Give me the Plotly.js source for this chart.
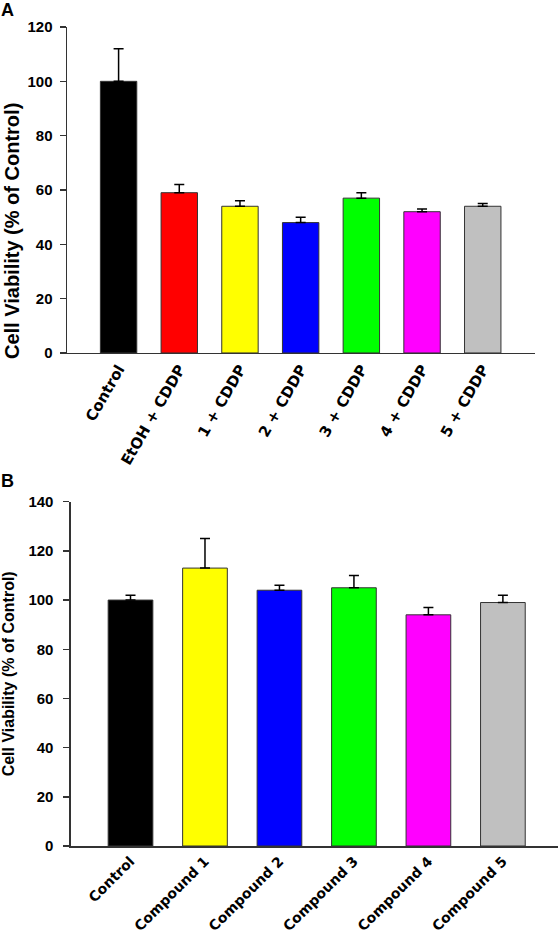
<!DOCTYPE html>
<html><head><meta charset="utf-8">
<script src="https://cdn.plot.ly/plotly-3.0.1.min.js"></script>
<style>html,body{margin:0;padding:0;background:#fff}#chart{width:559px;height:936px}</style>
</head><body><div id="chart"></div>
<script>
const catsA = ["Control", "EtOH + CDDP", "1 + CDDP", "2 + CDDP", "3 + CDDP", "4 + CDDP", "5 + CDDP"];
const valsA = [100, 59, 54, 48, 57, 52, 54];
const errA = [12, 3, 2, 2, 2, 1, 1];
const colorsA = ["#000000", "#ff0000", "#ffff00", "#0000ff", "#00ff00", "#ff00ff", "#c0c0c0"];

const catsB = ["Control", "Compound 1", "Compound 2", "Compound 3", "Compound 4", "Compound 5"];
const valsB = [100, 113, 104, 105, 94, 99];
const errB = [2, 12, 2, 5, 3, 3];
const colorsB = ["#000000", "#ffff00", "#0000ff", "#00ff00", "#ff00ff", "#c0c0c0"];

const ticksA = [0, 20, 40, 60, 80, 100, 120];
const ticksB = [0, 20, 40, 60, 80, 100, 120, 140];
const yTitle = "Cell Viability (% of Control)";

const errStyle = (arr) => ({type: "data", array: arr, arrayminus: arr.map(() => 0), symmetric: false,
  color: "#000000", thickness: 1.5, width: 5});

const traces = [
  {type: "bar", x: catsA, y: valsA, xaxis: "x", yaxis: "y", width: 0.6,
   marker: {color: colorsA, line: {color: "#333333", width: 1}}, error_y: errStyle(errA), hoverinfo: "x+y"},
  {type: "bar", x: catsB, y: valsB, xaxis: "x2", yaxis: "y2", width: 0.6,
   marker: {color: colorsB, line: {color: "#333333", width: 1}}, error_y: errStyle(errB), hoverinfo: "x+y"}
];

const arial = "Arial, 'Liberation Sans', sans-serif";
const tickFont = {family: arial, size: 15, color: "#000", weight: 700};
const catFontA = {family: "'DejaVu Sans', Verdana, sans-serif", size: 15, color: "#000", weight: 700};
const catFontB = {family: "'DejaVu Sans', Verdana, sans-serif", size: 14, color: "#000", weight: 700};

const boldTicks = (arr) => arr.map(v => "<b>" + v + "</b>");

const layout = {
  width: 559, height: 936,
  margin: {l: 67, r: 1, t: 27, b: 90},
  paper_bgcolor: "#fff", plot_bgcolor: "#fff",
  showlegend: false,
  bargap: 0.4,
  xaxis: {domain: [0, 0.953], anchor: "y", range: [-0.85, 6.86], showline: true, linecolor: "#333", linewidth: 1.5,
    ticks: "", tickangle: -60, tickfont: catFontA, showgrid: false, zeroline: false},
  yaxis: {domain: [0.602, 1], anchor: "x", range: [0, 120], tickvals: ticksA, ticktext: boldTicks(ticksA),
    showline: true, linecolor: "#333", linewidth: 1.5, ticklabelstandoff: 4,
    ticks: "outside", ticklen: 6, tickwidth: 1.5, tickcolor: "#333", tickfont: tickFont, showgrid: false, zeroline: false},
  xaxis2: {domain: [0.008, 1], anchor: "y2", range: [-0.8, 5.74], showline: true, linecolor: "#333", linewidth: 1.5,
    ticks: "", tickangle: -45, tickfont: catFontB, showgrid: false, zeroline: false},
  yaxis2: {domain: [0, 0.4204], anchor: "x2", range: [0, 140], tickvals: ticksB, ticktext: boldTicks(ticksB),
    showline: true, linecolor: "#333", linewidth: 1.5, ticklabelstandoff: 7,
    ticks: "outside", ticklen: 6, tickwidth: 1.5, tickcolor: "#333", tickfont: tickFont, showgrid: false, zeroline: false,
    title: {text: "<b>" + yTitle + "</b>", font: {family: arial, size: 16, color: "#000"}, standoff: 10}},
  annotations: [
    {text: "<b>" + yTitle + "</b>", xref: "paper", yref: "paper", x: -0.112, y: 1 - (231 - 27) / 819,
     xanchor: "center", yanchor: "middle", textangle: -90, showarrow: false,
     font: {family: arial, size: 20, color: "#000"}},
    {text: "<b>A</b>", xref: "paper", yref: "paper", x: -0.139, y: 1.036, xanchor: "left", yanchor: "top", showarrow: false,
     font: {family: arial, size: 18, color: "#000"}},
    {text: "<b>B</b>", xref: "paper", yref: "paper", x: -0.139, y: 0.46, xanchor: "left", yanchor: "top", showarrow: false,
     font: {family: arial, size: 18, color: "#000"}}
  ]
};

Plotly.newPlot("chart", traces, layout, {displayModeBar: false, staticPlot: true});
</script></body></html>
